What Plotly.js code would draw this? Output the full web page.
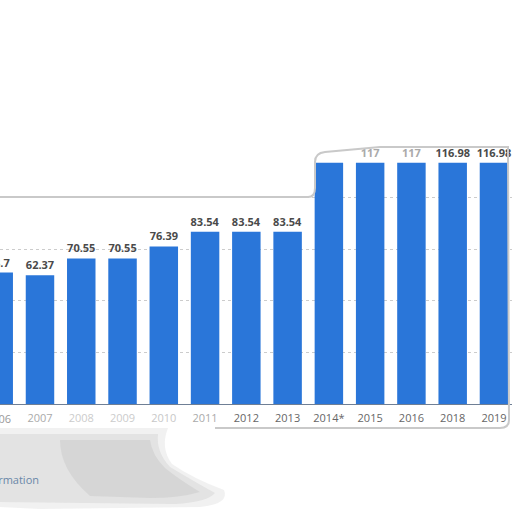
<!DOCTYPE html>
<html>
<head>
<meta charset="utf-8">
<script src="https://cdn.plot.ly/plotly-3.0.1.min.js"></script>
<style>html,body{margin:0;padding:0;background:#fff;}#chart{width:512px;height:512px;}</style>
</head>
<body>
<div id="chart"></div>
<script>
// ---- data ----
const years = ['2006','2007','2008','2009','2010','2011','2012','2013','2014*','2015','2016','2018','2019'];
const values = [63.7, 62.37, 70.55, 70.55, 76.39, 83.54, 83.54, 83.54, 117, 117, 117, 116.98, 116.98];
const valueLabels = ['63.7','62.37','70.55','70.55','76.39','83.54','83.54','83.54','117','117','117','116.98','116.98'];
const gridValues = [25, 50, 75, 100];

// ---- styling helpers (visual only) ----
const tickColors = ['#999','#aaa','#ccc','#ccc','#c8c8c8','#aaa','#666','#666','#666','#666','#666','#666','#666'];
const labelColors = valueLabels.map((v,i)=> i===8 ? 'rgba(0,0,0,0)' : (i===9||i===10 ? '#aaa' : '#4a4a4a'));

const M = {l:0, r:0, t:140, b:108};
const W = 512, H = 512;
const plotH = H - M.t - M.b;
const base = H - M.b;
const xr = [0.031, 12.437];
function X(px){ return px / W; }
function Y(py){ return (base - py) / plotH; }
function catX(i){ return (i - xr[0]) / (xr[1] - xr[0]); }
function path(cmds){
  return cmds.map(c => {
    const op = c[0];
    const nums = c.slice(1);
    const out = [];
    for (let i=0;i<nums.length;i+=2){ out.push(X(nums[i]).toFixed(5)+','+Y(nums[i+1]).toFixed(5)); }
    return op + out.join(' ');
  }).join(' ');
}

const panelCmds = [
  ['M',-10,197],['L',308,197],['Q',315,197,315,188],['L',315,162],['Q',315,153,325,152],
  ['L',380,147],['L',508,147],['L',509,420],['Q',509,428,500,428],['L',-10,428],['Z']
];
const panelTopCmds = [
  ['M',-10,197],['L',308,197],['Q',315,197,315,188],['L',315,162],['Q',315,153,325,152],
  ['L',380,147],['L',508,147],['L',509,420],['Q',509,428,500,428],['L',215,428]
];
const blobOuter = [
  ['M',0,428],['L',168,428],['Q',160,448,172,464],['Q',192,478,224,490],['Q',230,504,200,507],
  ['L',40,509],['L',0,507],['Z']
];
const blobMid = [
  ['M',0,434],['L',158,434],['Q',156,452,170,467],['Q',195,482,215,493],['Q',208,502,175,504],
  ['L',0,502],['Z']
];
const blobInner = [
  ['M',60,440],['L',150,440],['Q',152,455,165,468],['Q',180,480,200,492],['Q',180,498,150,498],
  ['L',90,496],['Q',60,470,60,440],['Z']
];

const trace = {
  type: 'bar',
  x: years,
  y: values,
  text: valueLabels,
  texttemplate: '<b>%{text}</b>',
  textposition: 'outside',
  constraintext: 'none',
  cliponaxis: true,
  textfont: {family: 'Open Sans, sans-serif', size: 11, color: labelColors},
  marker: {color: '#2a76d9', line: {width: 0}},
  hoverinfo: 'none'
};

const layout = {
  width: W, height: H,
  margin: {l:M.l, r:M.r, t:M.t, b:M.b, pad:0},
  paper_bgcolor: '#ffffff',
  plot_bgcolor: 'rgba(0,0,0,0)',
  showlegend: false,
  bargap: 0.31,
  xaxis: {
    type: 'category',
    range: xr,
    tickvals: years,
    ticktext: years.map((y,i)=>'<span style="color:'+tickColors[i]+'">'+y+'</span>'),
    tickfont: {family: 'Open Sans, sans-serif', size: 11, color: '#666'},
    ticks: '',
    ticklabelstandoff: 4,
    showgrid: false,
    showline: true,
    linecolor: '#6f7f95',
    linewidth: 1,
    zeroline: false,
    fixedrange: true
  },
  yaxis: {
    range: [0, plotH / 2.063],
    tickvals: gridValues,
    showticklabels: false,
    showgrid: true,
    gridcolor: '#cccccc',
    griddash: 'dot',
    gridwidth: 1,
    zeroline: false,
    showline: false,
    fixedrange: true
  },
  shapes: [
    {type:'path', xref:'paper', yref:'paper', layer:'below', path: path(blobOuter),
      fillcolor:'rgba(215,215,215,0.35)', line:{width:0}},
    {type:'path', xref:'paper', yref:'paper', layer:'below', path: path(blobMid),
      fillcolor:'rgba(200,200,200,0.35)', line:{width:0}},
    {type:'path', xref:'paper', yref:'paper', layer:'below', path: path(blobInner),
      fillcolor:'rgba(185,185,185,0.3)', line:{width:0}},
    {type:'path', xref:'paper', yref:'paper', layer:'below', path: path(panelCmds),
      fillcolor:'#ffffff', line:{width:0}},
    {type:'path', xref:'paper', yref:'paper', layer:'above', path: path(panelTopCmds),
      fillcolor:'rgba(0,0,0,0)', line:{color:'#c9c9c9', width:2}}
  ],
  annotations: [
    {xref:'paper', yref:'paper', x: catX(0), y: Y(418), xanchor:'center', yanchor:'middle',
      text: years[0], showarrow:false,
      font:{family:'Open Sans, sans-serif', size:11, color: tickColors[0]}},
    {xref:'paper', yref:'paper', x: X(41), y: Y(479), xanchor:'right', yanchor:'middle',
      text:'Additional Information', showarrow:false,
      font:{family:'Open Sans, sans-serif', size:11, color:'#6a87a8'}}
  ]
};

Plotly.newPlot('chart', [trace], layout, {displayModeBar:false, staticPlot:true});
</script>
</body>
</html>
